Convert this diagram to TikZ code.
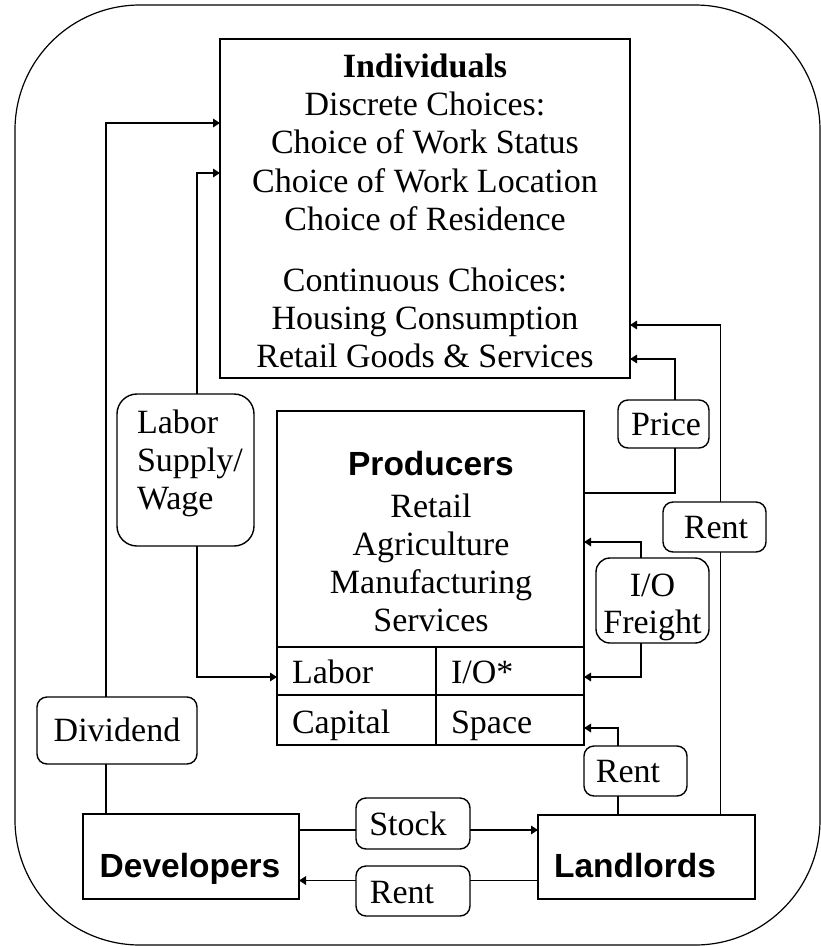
\documentclass[tikz,border=0pt]{standalone}
\usepackage{fontspec}
\setmainfont{Liberation Serif}
\newfontfamily\headfont{Liberation Sans}
\usetikzlibrary{arrows.meta}

\begin{document}
\begin{tikzpicture}[x=1pt,y=-1pt,
  every node/.style={font=\fontsize{34}{39}\selectfont, inner sep=0pt, outer sep=0pt},
  box/.style={draw, line width=1.6pt, rectangle},
  tag/.style={draw, line width=1.4pt, rectangle, rounded corners=#1},
  tag/.default=10pt,
  link/.style={line width=1.6pt},
  arr/.style={line width=1.6pt, -{Triangle[length=7pt,width=8.5pt]}},
  head/.style={font=\fontsize{33.5}{39}\selectfont\headfont\bfseries}]

% page and outer frame
\useasboundingbox (0,0) rectangle (821,946);
\fill[white] (0,0) rectangle (821,946);
\draw[line width=1.2pt, rounded corners=125pt] (15,5) rectangle (820,945);

% ---------- Individuals ----------
\node[box, minimum width=410pt, minimum height=339pt] (ind) at (425,208.5) {};
\node[anchor=base, font=\fontsize{34}{39}\selectfont\bfseries] (indhead) at (425,77) {Individuals};
\foreach \t/\y [count=\i] in {Discrete Choices:/115, Choice of Work Status/153,
    Choice of Work Location/192, Choice of Residence/230, Continuous Choices:/291,
    Housing Consumption/329, Retail Goods \& Services/367}
  \node[anchor=base] (indline\i) at (425,\y) {\t};

% ---------- Producers ----------
\node[box, minimum width=307pt, minimum height=334pt] (prod) at (430.5,578) {};
\node[anchor=base, head] (prodhead) at (431,475) {Producers};
\foreach \t/\y [count=\i] in {Retail/517, Agriculture/555, Manufacturing/593, Services/631}
  \node[anchor=base] (prodline\i) at (431,\y) {\t};
\node[box, minimum width=159pt, minimum height=48pt] (labor) at (356.5,671) {};
\node[box, minimum width=148pt, minimum height=48pt] (io) at (510,671) {};
\node[box, minimum width=159pt, minimum height=50pt] (capital) at (356.5,720) {};
\node[box, minimum width=148pt, minimum height=50pt] (space) at (510,720) {};
\node[anchor=base west] (labortxt) at (292,683) {Labor};
\node[anchor=base west] (iotxt) at (451,683) {I/O*};
\node[anchor=base west] (capitaltxt) at (292,733) {Capital};
\node[anchor=base west] (spacetxt) at (451,733) {Space};

% ---------- Developers and Landlords ----------
\node[box, minimum width=216pt, minimum height=85pt] (dev) at (191,856.5) {};
\node[anchor=base, head] (devtxt) at (190,877) {Developers};
\node[box, minimum width=217pt, minimum height=84pt] (land) at (646.5,857) {};
\node[anchor=base, head] (landtxt) at (635,877) {Landlords};

% ---------- flow labels ----------
\node[tag=20pt, minimum width=137pt, minimum height=152pt] (ls) at (185.5,470) {};
\node[anchor=base west] (ls1) at (137,433) {Labor};
\node[anchor=base west] (ls2) at (137,471) {Supply/};
\node[anchor=base west] (ls3) at (137,509) {Wage};

\node[tag, minimum width=160pt, minimum height=67pt] (dv) at (117,730.5) {};
\node[anchor=base] (dvtxt) at (117,741) {Dividend};

\node[tag, minimum width=91pt, minimum height=48pt] (price) at (663.5,424) {};
\node[anchor=base] (pricetxt) at (666,435) {Price};

\node[tag, minimum width=103pt, minimum height=50pt] (rentm) at (714.5,527) {};
\node[anchor=base] (rentmtxt) at (716,538) {Rent};

\node[tag=14pt, minimum width=113pt, minimum height=85pt] (iof) at (652.5,600.5) {};
\node[anchor=base] (iof1) at (652.5,596) {I/O};
\node[anchor=base] (iof2) at (652.5,633) {Freight};

\node[tag, minimum width=103pt, minimum height=50pt] (rentl) at (635.5,771) {};
\node[anchor=base] (rentltxt) at (628,782) {Rent};

\node[tag, minimum width=114pt, minimum height=51pt] (stk) at (413,823.5) {};
\node[anchor=base] (stktxt) at (408,835) {Stock};

\node[tag, minimum width=114pt, minimum height=50pt] (rentb) at (413,891) {};
\node[anchor=base] (rentbtxt) at (402,903) {Rent};

% ---------- connector columns and rows ----------
\coordinate (xdiv) at (106,0);
\coordinate (xls) at (197,0);
\coordinate (xprice) at (675,0);
\coordinate (xrentm) at (720.5,0);
\coordinate (xiof) at (641,0);
\coordinate (xrentl) at (618,0);
\coordinate (ydiv) at (0,123);
\coordinate (yls) at (0,173);
\coordinate (yrentm) at (0,325);
\coordinate (yprice) at (0,359);
\coordinate (yprod) at (0,493);
\coordinate (yiotop) at (0,542);
\coordinate (ycell) at (0,677);
\coordinate (yspace) at (0,728);
\coordinate (ystock) at (0,830);
\coordinate (yrent) at (0,880.5);

% ---------- connectors ----------
% dividends from developers to individuals
\draw[link] (dev.north -| xdiv) -- (dv.south -| xdiv);
\draw[arr] (dv.north -| xdiv) |- (ind.west |- ydiv);
% labour supply and wage
\draw[arr] (ls.north -| xls) |- (ind.west |- yls);
\draw[arr] (ls.south -| xls) |- (labor.west |- ycell);
% retail price
\draw[link] (prod.east |- yprod) -| (price.south -| xprice);
\draw[arr] (price.north -| xprice) |- (ind.east |- yprice);
% housing rent to individuals
\draw[link] (land.north -| xrentm) -- (rentm.south -| xrentm);
\draw[arr] (rentm.north -| xrentm) |- (ind.east |- yrentm);
% input/output freight
\draw[arr] (iof.north -| xiof) |- (prod.east |- yiotop);
\draw[arr] (iof.south -| xiof) |- (io.east |- ycell);
% commercial rent to producers
\draw[link] (land.north -| xrentl) -- (rentl.south -| xrentl);
\draw[arr] (rentl.north -| xrentl) |- (space.east |- yspace);
% stock and rent between developers and landlords
\draw[link] (dev.east |- ystock) -- (stk.west |- ystock);
\draw[arr] (stk.east |- ystock) -- (land.west |- ystock);
\draw[link] (land.west |- yrent) -- (rentb.east |- yrent);
\draw[arr] (rentb.west |- yrent) -- (dev.east |- yrent);
\end{tikzpicture}
\end{document}
